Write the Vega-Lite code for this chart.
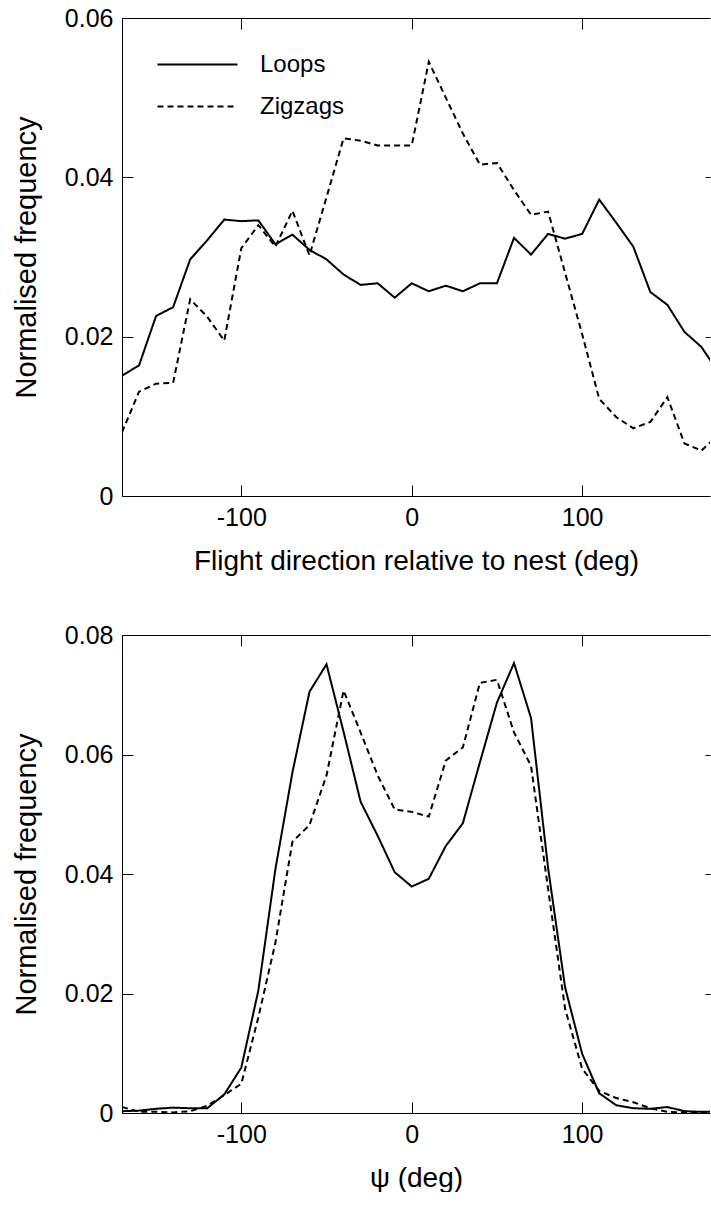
{
  "$schema": "https://vega.github.io/schema/vega-lite/v6.json",
  "padding": {"left": 12, "top": 6, "right": 0, "bottom": 0},
  "config": {
    "font": "Liberation Sans",
    "view": {"stroke": null},
    "concat": {"spacing": 48},
    "axis": {
      "labelFont": "Liberation Sans", "labelFontSize": 25, "labelColor": "black",
      "titleFont": "Liberation Sans", "titleFontSize": 28, "titleFontWeight": "normal", "titleColor": "black",
      "domainColor": "black", "domainWidth": 1, "tickColor": "black", "tickWidth": 1,
      "grid": false, "tickSize": -11, "labelPadding": 20, "titlePadding": 17
    },
    "axisLeft": {"titleFontSize": 29, "titlePadding": 23}
  },
  "resolve": {"scale": {"strokeDash": "independent"}, "legend": {"strokeDash": "independent"}},
  "datasets": {
    "top": [
      {"angle": -170, "freq": 0.0151, "type": "Loops"},
      {"angle": -160, "freq": 0.0164, "type": "Loops"},
      {"angle": -150, "freq": 0.0226, "type": "Loops"},
      {"angle": -140, "freq": 0.0237, "type": "Loops"},
      {"angle": -130, "freq": 0.0297, "type": "Loops"},
      {"angle": -120, "freq": 0.0321, "type": "Loops"},
      {"angle": -110, "freq": 0.0347, "type": "Loops"},
      {"angle": -100, "freq": 0.0345, "type": "Loops"},
      {"angle": -90, "freq": 0.0346, "type": "Loops"},
      {"angle": -80, "freq": 0.0316, "type": "Loops"},
      {"angle": -70, "freq": 0.0328, "type": "Loops"},
      {"angle": -60, "freq": 0.0309, "type": "Loops"},
      {"angle": -50, "freq": 0.0297, "type": "Loops"},
      {"angle": -40, "freq": 0.0278, "type": "Loops"},
      {"angle": -30, "freq": 0.0265, "type": "Loops"},
      {"angle": -20, "freq": 0.0267, "type": "Loops"},
      {"angle": -10, "freq": 0.0249, "type": "Loops"},
      {"angle": 0, "freq": 0.0267, "type": "Loops"},
      {"angle": 10, "freq": 0.0257, "type": "Loops"},
      {"angle": 20, "freq": 0.0264, "type": "Loops"},
      {"angle": 30, "freq": 0.0257, "type": "Loops"},
      {"angle": 40, "freq": 0.0267, "type": "Loops"},
      {"angle": 50, "freq": 0.0267, "type": "Loops"},
      {"angle": 60, "freq": 0.0324, "type": "Loops"},
      {"angle": 70, "freq": 0.0303, "type": "Loops"},
      {"angle": 80, "freq": 0.0329, "type": "Loops"},
      {"angle": 90, "freq": 0.0323, "type": "Loops"},
      {"angle": 100, "freq": 0.0329, "type": "Loops"},
      {"angle": 110, "freq": 0.0372, "type": "Loops"},
      {"angle": 120, "freq": 0.0343, "type": "Loops"},
      {"angle": 130, "freq": 0.0313, "type": "Loops"},
      {"angle": 140, "freq": 0.0256, "type": "Loops"},
      {"angle": 150, "freq": 0.0240, "type": "Loops"},
      {"angle": 160, "freq": 0.0206, "type": "Loops"},
      {"angle": 170, "freq": 0.0187, "type": "Loops"},
      {"angle": 180, "freq": 0.0155, "type": "Loops"},
      {"angle": -170, "freq": 0.0080, "type": "Zigzags"},
      {"angle": -160, "freq": 0.0131, "type": "Zigzags"},
      {"angle": -150, "freq": 0.0141, "type": "Zigzags"},
      {"angle": -140, "freq": 0.0142, "type": "Zigzags"},
      {"angle": -130, "freq": 0.0247, "type": "Zigzags"},
      {"angle": -120, "freq": 0.0225, "type": "Zigzags"},
      {"angle": -110, "freq": 0.0195, "type": "Zigzags"},
      {"angle": -100, "freq": 0.0311, "type": "Zigzags"},
      {"angle": -90, "freq": 0.0340, "type": "Zigzags"},
      {"angle": -80, "freq": 0.0313, "type": "Zigzags"},
      {"angle": -70, "freq": 0.0358, "type": "Zigzags"},
      {"angle": -60, "freq": 0.0302, "type": "Zigzags"},
      {"angle": -50, "freq": 0.0375, "type": "Zigzags"},
      {"angle": -40, "freq": 0.0449, "type": "Zigzags"},
      {"angle": -30, "freq": 0.0446, "type": "Zigzags"},
      {"angle": -20, "freq": 0.0440, "type": "Zigzags"},
      {"angle": -10, "freq": 0.0440, "type": "Zigzags"},
      {"angle": 0, "freq": 0.0440, "type": "Zigzags"},
      {"angle": 10, "freq": 0.0545, "type": "Zigzags"},
      {"angle": 20, "freq": 0.0500, "type": "Zigzags"},
      {"angle": 30, "freq": 0.0455, "type": "Zigzags"},
      {"angle": 40, "freq": 0.0416, "type": "Zigzags"},
      {"angle": 50, "freq": 0.0418, "type": "Zigzags"},
      {"angle": 60, "freq": 0.0384, "type": "Zigzags"},
      {"angle": 70, "freq": 0.0353, "type": "Zigzags"},
      {"angle": 80, "freq": 0.0357, "type": "Zigzags"},
      {"angle": 90, "freq": 0.0280, "type": "Zigzags"},
      {"angle": 100, "freq": 0.0203, "type": "Zigzags"},
      {"angle": 110, "freq": 0.0122, "type": "Zigzags"},
      {"angle": 120, "freq": 0.0099, "type": "Zigzags"},
      {"angle": 130, "freq": 0.0085, "type": "Zigzags"},
      {"angle": 140, "freq": 0.0093, "type": "Zigzags"},
      {"angle": 150, "freq": 0.0124, "type": "Zigzags"},
      {"angle": 160, "freq": 0.0066, "type": "Zigzags"},
      {"angle": 170, "freq": 0.0057, "type": "Zigzags"},
      {"angle": 180, "freq": 0.0077, "type": "Zigzags"}
    ],
    "bottom": [
      {"angle": -170, "freq": 0.0003, "type": "Loops"},
      {"angle": -160, "freq": 0.0004, "type": "Loops"},
      {"angle": -150, "freq": 0.0007, "type": "Loops"},
      {"angle": -140, "freq": 0.0009, "type": "Loops"},
      {"angle": -130, "freq": 0.0008, "type": "Loops"},
      {"angle": -120, "freq": 0.0008, "type": "Loops"},
      {"angle": -110, "freq": 0.0031, "type": "Loops"},
      {"angle": -100, "freq": 0.0076, "type": "Loops"},
      {"angle": -90, "freq": 0.0205, "type": "Loops"},
      {"angle": -80, "freq": 0.0408, "type": "Loops"},
      {"angle": -70, "freq": 0.0570, "type": "Loops"},
      {"angle": -60, "freq": 0.0705, "type": "Loops"},
      {"angle": -50, "freq": 0.0751, "type": "Loops"},
      {"angle": -40, "freq": 0.0638, "type": "Loops"},
      {"angle": -30, "freq": 0.0521, "type": "Loops"},
      {"angle": -20, "freq": 0.0464, "type": "Loops"},
      {"angle": -10, "freq": 0.0403, "type": "Loops"},
      {"angle": 0, "freq": 0.0379, "type": "Loops"},
      {"angle": 10, "freq": 0.0392, "type": "Loops"},
      {"angle": 20, "freq": 0.0447, "type": "Loops"},
      {"angle": 30, "freq": 0.0485, "type": "Loops"},
      {"angle": 40, "freq": 0.0587, "type": "Loops"},
      {"angle": 50, "freq": 0.0687, "type": "Loops"},
      {"angle": 60, "freq": 0.0753, "type": "Loops"},
      {"angle": 70, "freq": 0.0661, "type": "Loops"},
      {"angle": 80, "freq": 0.0410, "type": "Loops"},
      {"angle": 90, "freq": 0.0210, "type": "Loops"},
      {"angle": 100, "freq": 0.0099, "type": "Loops"},
      {"angle": 110, "freq": 0.0033, "type": "Loops"},
      {"angle": 120, "freq": 0.0013, "type": "Loops"},
      {"angle": 130, "freq": 0.0008, "type": "Loops"},
      {"angle": 140, "freq": 0.0007, "type": "Loops"},
      {"angle": 150, "freq": 0.0010, "type": "Loops"},
      {"angle": 160, "freq": 0.0003, "type": "Loops"},
      {"angle": 170, "freq": 0.0002, "type": "Loops"},
      {"angle": 180, "freq": 0.0002, "type": "Loops"},
      {"angle": -170, "freq": 0.0010, "type": "Zigzags"},
      {"angle": -160, "freq": 0.0002, "type": "Zigzags"},
      {"angle": -150, "freq": 0.0002, "type": "Zigzags"},
      {"angle": -140, "freq": 0.0001, "type": "Zigzags"},
      {"angle": -130, "freq": 0.0003, "type": "Zigzags"},
      {"angle": -120, "freq": 0.0012, "type": "Zigzags"},
      {"angle": -110, "freq": 0.0030, "type": "Zigzags"},
      {"angle": -100, "freq": 0.0049, "type": "Zigzags"},
      {"angle": -90, "freq": 0.0160, "type": "Zigzags"},
      {"angle": -80, "freq": 0.0285, "type": "Zigzags"},
      {"angle": -70, "freq": 0.0454, "type": "Zigzags"},
      {"angle": -60, "freq": 0.0482, "type": "Zigzags"},
      {"angle": -50, "freq": 0.0565, "type": "Zigzags"},
      {"angle": -40, "freq": 0.0707, "type": "Zigzags"},
      {"angle": -30, "freq": 0.0637, "type": "Zigzags"},
      {"angle": -20, "freq": 0.0565, "type": "Zigzags"},
      {"angle": -10, "freq": 0.0508, "type": "Zigzags"},
      {"angle": 0, "freq": 0.0504, "type": "Zigzags"},
      {"angle": 10, "freq": 0.0496, "type": "Zigzags"},
      {"angle": 20, "freq": 0.0590, "type": "Zigzags"},
      {"angle": 30, "freq": 0.0612, "type": "Zigzags"},
      {"angle": 40, "freq": 0.0720, "type": "Zigzags"},
      {"angle": 50, "freq": 0.0725, "type": "Zigzags"},
      {"angle": 60, "freq": 0.0637, "type": "Zigzags"},
      {"angle": 70, "freq": 0.0581, "type": "Zigzags"},
      {"angle": 80, "freq": 0.0375, "type": "Zigzags"},
      {"angle": 90, "freq": 0.0174, "type": "Zigzags"},
      {"angle": 100, "freq": 0.0074, "type": "Zigzags"},
      {"angle": 110, "freq": 0.0037, "type": "Zigzags"},
      {"angle": 120, "freq": 0.0025, "type": "Zigzags"},
      {"angle": 130, "freq": 0.0018, "type": "Zigzags"},
      {"angle": 140, "freq": 0.0008, "type": "Zigzags"},
      {"angle": 150, "freq": 0.0002, "type": "Zigzags"},
      {"angle": 160, "freq": 0.0001, "type": "Zigzags"},
      {"angle": 170, "freq": 0.0001, "type": "Zigzags"},
      {"angle": 180, "freq": 0.0001, "type": "Zigzags"}
    ]
  },
  "vconcat": [
    {
      "width": 588,
      "height": 478,
      "data": {"name": "top"},
      "layer": [
        {
          "mark": {"type": "line", "clip": true, "strokeWidth": 2, "color": "black"},
          "encoding": {
            "x": {"field": "angle", "type": "quantitative",
                  "scale": {"domain": [-170, 175], "nice": false, "zero": false},
                  "axis": {"title": "Flight direction relative to nest (deg)", "values": [-100, 0, 100],
                           "labelExpr": "datum.value < 0 ? '-' + abs(datum.value) : '' + datum.value"}},
            "y": {"field": "freq", "type": "quantitative",
                  "scale": {"domain": [0, 0.06], "nice": false},
                  "axis": {"title": "Normalised frequency", "values": [0, 0.02, 0.04, 0.06], "format": ".2~f"}},
            "strokeDash": {"field": "type", "type": "nominal",
                           "scale": {"domain": ["Loops", "Zigzags"], "range": [[1, 0], [6, 4]]},
                           "legend": {"title": null, "orient": "none", "legendX": 61, "legendY": 32,
                                      "symbolType": "M-3,0H3", "symbolSize": 711, "symbolStrokeWidth": 2,
                                      "symbolStrokeColor": "black", "symbolFillColor": "transparent",
                                      "labelFontSize": 24, "labelColor": "black",
                                      "labelFont": "Liberation Sans", "labelOffset": 48, "rowPadding": 15}}
          }
        },
        {
          "mark": {"type": "point", "opacity": 0},
          "encoding": {
            "x": {"field": "angle", "type": "quantitative",
                  "axis": {"orient": "top", "labels": false, "title": null, "values": [-100, 0, 100]}},
            "y": {"field": "freq", "type": "quantitative",
                  "axis": {"orient": "right", "labels": false, "title": null, "domain": false, "tickSize": -5, "values": [0.02, 0.04]}}
          }
        }
      ],
      "resolve": {"axis": {"x": "independent", "y": "independent"}}
    },
    {
      "width": 588,
      "height": 478,
      "data": {"name": "bottom"},
      "layer": [
        {
          "mark": {"type": "line", "clip": true, "strokeWidth": 2, "color": "black"},
          "encoding": {
            "x": {"field": "angle", "type": "quantitative",
                  "scale": {"domain": [-170, 175], "nice": false, "zero": false},
                  "axis": {"title": "ψ (deg)", "values": [-100, 0, 100],
                           "labelExpr": "datum.value < 0 ? '-' + abs(datum.value) : '' + datum.value"}},
            "y": {"field": "freq", "type": "quantitative",
                  "scale": {"domain": [0, 0.08], "nice": false},
                  "axis": {"title": "Normalised frequency", "values": [0, 0.02, 0.04, 0.06, 0.08], "format": ".2~f"}},
            "strokeDash": {"field": "type", "type": "nominal",
                           "scale": {"domain": ["Loops", "Zigzags"], "range": [[1, 0], [6, 4]]},
                           "legend": null}
          }
        },
        {
          "mark": {"type": "point", "opacity": 0},
          "encoding": {
            "x": {"field": "angle", "type": "quantitative",
                  "axis": {"orient": "top", "labels": false, "title": null, "values": [-100, 0, 100]}},
            "y": {"field": "freq", "type": "quantitative",
                  "axis": {"orient": "right", "labels": false, "title": null, "domain": false, "tickSize": -5, "values": [0.02, 0.04, 0.06]}}
          }
        }
      ],
      "resolve": {"axis": {"x": "independent", "y": "independent"}}
    }
  ]
}
